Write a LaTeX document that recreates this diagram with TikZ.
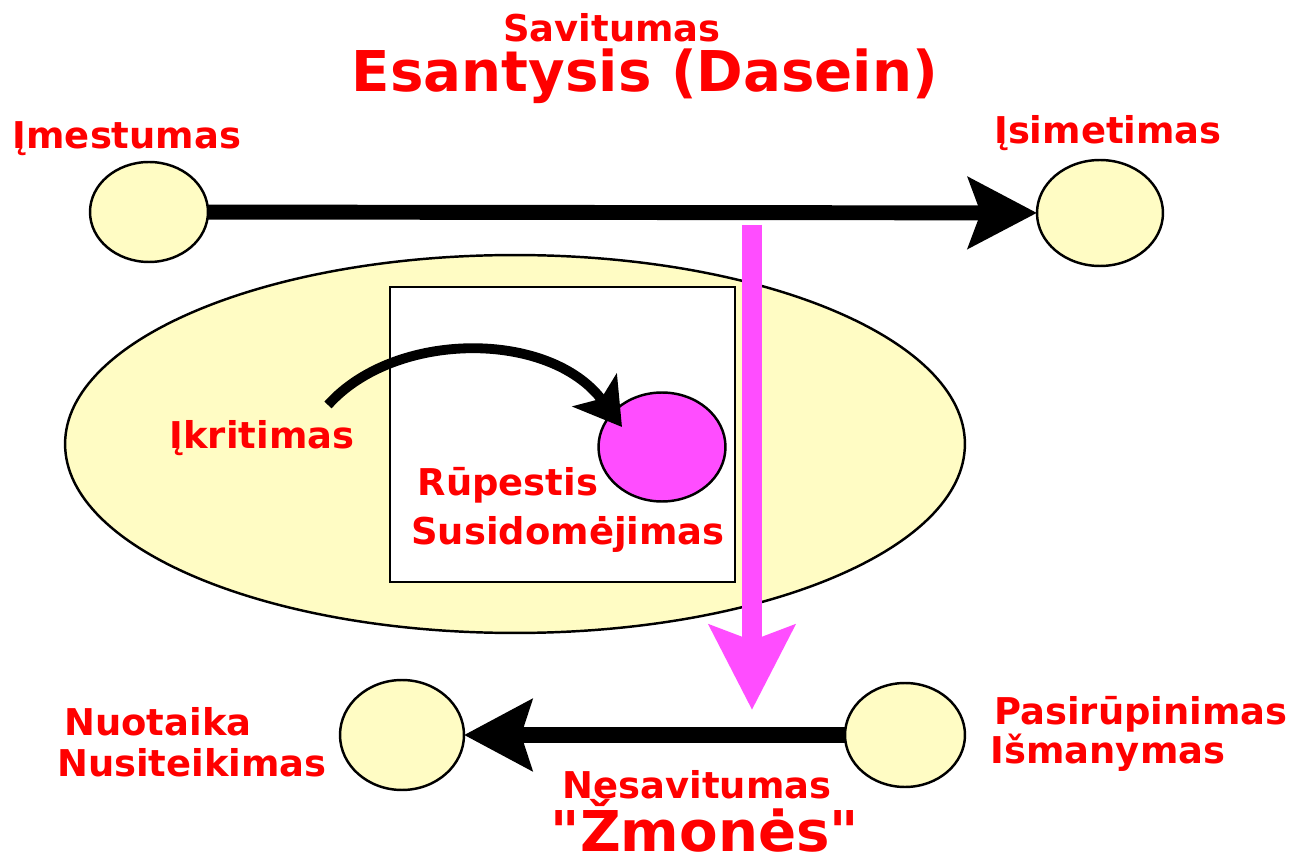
\documentclass[tikz,border=0pt]{standalone}
\usepackage{fontspec}
\setmainfont{DejaVu Sans}[Ligatures=TeXOff]
\usepackage{xcolor}
\usetikzlibrary{arrows.meta, shapes.geometric, positioning}
\definecolor{pale}{HTML}{FFFCC4}
\definecolor{mag}{HTML}{FF4DFF}
\tikzset{
  lbl/.style={text=red, font=\bfseries\fontsize{21}{25}\selectfont, inner sep=0pt},
  biglbl/.style={text=red, font=\bfseries\fontsize{32}{36}\selectfont, inner sep=0pt},
  blob/.style={ellipse, draw=black, line width=1.4pt, fill=pale, inner sep=0pt, outer sep=0pt},
}

\begin{document}
\begin{tikzpicture}[x=0.02cm, y=-0.02cm]

                        \useasboundingbox (0,0) rectangle (1303,858);
                        % \draw big ellipse and box
                        \node[blob, minimum width=18cm, minimum height=7.56cm] (kasdien) at (515,444) {};
                        \draw[line width=1.2pt, fill=white] (390,287) rectangle (735,582);

                        % \draw small ellipses
                        \node[blob, minimum width=2.36cm, minimum height=2cm] (imest) at (149,212) {};
                        \node[blob, minimum width=2.52cm, minimum height=2.12cm] (isimet) at (1100,213) {};
                        \node[blob, fill=mag, minimum width=2.54cm, minimum height=2.18cm] (rup) at (662,447) {};
                        \node[blob, minimum width=2.48cm, minimum height=2.2cm] (nuot) at (402,735) {};
                        \node[blob, minimum width=2.4cm, minimum height=2.08cm] (pasir) at (905,735) {};

                        % \draw top arrow
                        \draw[line width=8.5pt, -{Stealth[length=39pt, width=40pt, inset=7pt]}] (imest) -- (isimet);
                        % \draw bottom arrow
                        \draw[line width=9.5pt, -{Stealth[length=38.5pt, width=40pt, inset=6pt]}] (pasir) -- (nuot);

                        % \draw curved arrow
                        \coordinate (krstart) at (328,405);
                        \coordinate (krtip) at (622,427);
                        \draw[line width=5.6pt, -{Stealth[length=26pt, width=31pt, inset=6pt]}]
                          (krstart) .. controls (395,330) and (550,330) .. (krtip);

                        % \draw falling arrow
                        \coordinate (kritTop) at (752,225);
                        \coordinate (kritBot) at (752,710);
                        \draw[mag, line width=11pt, -{Stealth[length=48pt, width=48pt, inset=8.5pt]}] (kritTop) -- (kritBot);

                        % labels
                        \node[lbl] (savit) at (612,28) {Savitumas};
                        \node[biglbl] (dasein) at (645,76) {Esantysis (Dasein)};
                        \node[lbl] (limest) at (127,139) {Įmestumas};
                        \node[lbl] (lisimet) at (1108,133) {Įsimetimas};
                        \node[lbl] (lkrit) at (262,438) {Įkritimas};
                        \node[lbl] (lrup) at (508,485) {Rūpestis};
                        \node[lbl] (lsusid) at (568,534) {Susidomėjimas};
                        \node[lbl] (lnuot) at (158,722) {Nuotaika};
                        \node[lbl] (lnusit) at (192,763) {Nusiteikimas};
                        \node[lbl] (lpasir) at (1141,714) {Pasirūpinimas};
                        \node[lbl] (lisman) at (1108,753) {Išmanymas};
                        \node[lbl] (lnesav) at (697,785) {Nesavitumas};
                        \node[biglbl] (lzmon) at (705,826) {"Žmonės"};

                        \end{tikzpicture}
\end{document}
